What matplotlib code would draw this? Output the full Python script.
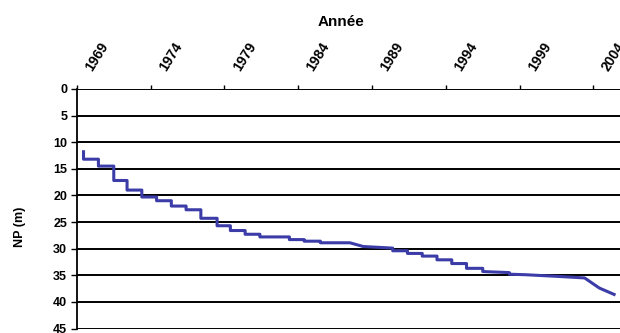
import matplotlib
matplotlib.use("Agg")
import matplotlib.pyplot as plt
from matplotlib.transforms import ScaledTranslation

# niveau piézométrique (m)
annees = [1969.45, 1969.45, 1970.46, 1970.46, 1971.5, 1971.5, 1972.4, 1972.4,
          1973.4, 1973.4, 1974.4, 1974.4, 1975.4, 1975.4, 1976.4, 1976.4,
          1977.4, 1977.4, 1978.5, 1978.5, 1979.4, 1979.4, 1980.4, 1980.4,
          1981.4, 1981.4, 1983.4, 1983.4, 1984.4, 1984.4, 1985.5, 1985.5,
          1987.5, 1988.4, 1990.4, 1990.4, 1991.4, 1991.4, 1992.4, 1992.4,
          1993.4, 1993.4, 1994.4, 1994.4, 1995.4, 1995.4, 1996.5, 1996.5,
          1998.3, 1998.3, 1999.4, 2001.5, 2003.4, 2004.4, 2005.4]
niveau = [11.8, 13.2, 13.2, 14.5, 14.5, 17.2, 17.2, 19.0,
          19.0, 20.3, 20.3, 21.0, 21.0, 22.0, 22.0, 22.7,
          22.7, 24.3, 24.3, 25.7, 25.7, 26.6, 26.6, 27.3,
          27.3, 27.8, 27.8, 28.3, 28.3, 28.6, 28.6, 28.9,
          28.9, 29.6, 29.9, 30.4, 30.4, 30.9, 30.9, 31.4,
          31.4, 32.1, 32.1, 32.8, 32.8, 33.7, 33.7, 34.3,
          34.5, 34.8, 34.9, 35.2, 35.5, 37.4, 38.6]
ticks_annees = [1969, 1974, 1979, 1984, 1989, 1994, 1999, 2004]
ticks_np = [0, 5, 10, 15, 20, 25, 30, 35, 40, 45]

plt.rcParams['font.family'] = ['Liberation Sans', 'DejaVu Sans']

fig = plt.figure(figsize=(6.2, 3.33), dpi=100)
ax = fig.add_axes([0.124, 0.0135, 0.876, 0.7195])

ax.plot(annees, niveau, color='#3c3ca8', linewidth=2.2, zorder=3)

ax.set_xlim(1969, 2005.8)
ax.set_ylim(45, 0)

# lignes horizontales
for v in ticks_np:
    ax.axhline(v, color='black', linewidth=1.4, zorder=2)

for s in ['right', 'bottom', 'top']:
    ax.spines[s].set_visible(False)
ax.spines['left'].set_linewidth(1.3)

ax.xaxis.tick_top()
ax.set_xticks(ticks_annees)
ax.set_xticklabels([str(a) for a in ticks_annees], rotation=58, ha='center',
                   va='center', rotation_mode='anchor', fontsize=10, fontweight='bold')
ax.tick_params(axis='x', direction='out', length=3, width=1, pad=20)
decal = ScaledTranslation(0.2, 0, fig.dpi_scale_trans)
for lab in ax.get_xticklabels():
    lab.set_transform(lab.get_transform() + decal)
ax.set_yticks(ticks_np)
ax.set_yticklabels([str(v) for v in ticks_np], fontsize=9, fontweight='bold')
ax.tick_params(axis='y', direction='out', length=4, width=1, pad=3)

fig.text(0.55, 0.934, 'Année', ha='center', va='center', fontsize=11, fontweight='bold')
fig.text(0.033, 0.318, 'NP (m)', ha='center', va='center', rotation=90,
         fontsize=9, fontweight='bold')

fig.savefig('out.png', dpi=100)
